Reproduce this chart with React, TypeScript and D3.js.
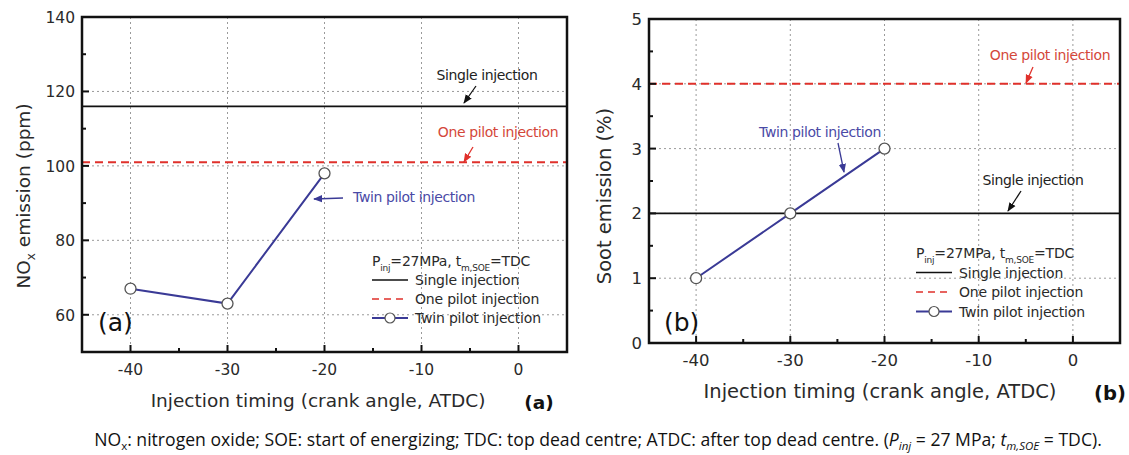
import React from "react";
import * as d3 from "d3";

// Injection timings (crank angle, ATDC) where the twin pilot strategy was measured
const timings = [-40, -30, -20];

// NOx emission (ppm)
const noxTwinPilot = [67, 63, 98];
const noxSingle = 116;
const noxOnePilot = 101;

// Soot emission (%)
const sootTwinPilot = [1, 2, 3];
const sootSingle = 2;
const sootOnePilot = 4;

// Axis ticks
const xTicks = [-40, -30, -20, -10, 0];
const xMinorTicks = [-35, -25, -15, -5];
const noxTicks = [60, 80, 100, 120, 140];
const noxMinorTicks = [70, 90, 110, 130];
const noxGrid = [60, 80, 100, 120];
const sootTicks = [0, 1, 2, 3, 4, 5];
const sootMinorTicks = [0.5, 1.5, 2.5, 3.5, 4.5];
const sootGrid = [1, 2, 3, 4];

const legendLabels = ["Single injection", "One pilot injection", "Twin pilot injection"];

const FONT = "'DejaVu Sans', Verdana, sans-serif";
const TEXT = "#2a2a2a";
const RED = "#e0312b";
const RED_TEXT = "#d4473a";
const BLUE = "#3a3a96";
const BLUE_TEXT = "#4a4aa6";

type Note = { text: string; color: string; tx: number; ty: number; ax1: number; ay1: number; ax2: number; ay2: number };

type PanelProps = {
  id: string;
  left: number;
  right: number;
  top: number;
  bottom: number;
  yDomain: [number, number];
  yTicks: number[];
  yMinor: number[];
  yGrid: number[];
  single: number;
  onePilot: number;
  twin: number[];
  yLabel: React.ReactNode;
  yLabelX: number;
  yLabelY: number;
  tag: string;
  tagX: number;
  tagY: number;
  panelLetter: string;
  letterX: number;
  titleX: number;
  titleSize: number;
  tickSize: number;
  legendX: number;
  legendY: number;
  legendGap: number;
  notes: Note[];
};

function arrowColor(c: string) {
  return c === BLUE_TEXT ? BLUE : c === RED_TEXT ? RED : "#111";
}

function Panel(p: PanelProps) {
  const x = d3.scaleLinear().domain([-45, 5]).range([p.left, p.right]);
  const y = d3.scaleLinear().domain(p.yDomain).range([p.bottom, p.top]);
  const line = d3
    .line<number>()
    .x((_, i) => x(timings[i]))
    .y((d) => y(d));

  const gridStyle = { stroke: "#9a9a9a", strokeWidth: 1, strokeDasharray: "2,3" };

  return (
    <g>
      <defs>
        {p.notes.map((n, i) => (
          <marker
            key={"mk" + i}
            id={`${p.id}-arrow-${i}`}
            viewBox="0 0 10 10"
            refX={9}
            refY={5}
            markerWidth={7}
            markerHeight={7}
            orient="auto"
          >
            <path d="M0,1 L10,5 L0,9 Z" fill={arrowColor(n.color)} />
          </marker>
        ))}
      </defs>

      {/* grid */}
      {xTicks.map((t) => (
        <line key={"gx" + t} x1={x(t)} x2={x(t)} y1={p.top} y2={p.bottom} {...gridStyle} />
      ))}
      {p.yGrid.map((t) => (
        <line key={"gy" + t} x1={p.left} x2={p.right} y1={y(t)} y2={y(t)} {...gridStyle} />
      ))}

      {/* reference strategies */}
      <line x1={p.left} x2={p.right} y1={y(p.single)} y2={y(p.single)} stroke="#111" strokeWidth={1.8} />
      <line
        x1={p.left}
        x2={p.right}
        y1={y(p.onePilot)}
        y2={y(p.onePilot)}
        stroke={RED}
        strokeWidth={2}
        strokeDasharray="8,5"
      />

      {/* twin pilot series */}
      <path d={line(p.twin) || ""} fill="none" stroke={BLUE} strokeWidth={2} />
      {p.twin.map((v, i) => (
        <circle key={"m" + i} cx={x(timings[i])} cy={y(v)} r={5.5} fill="#fff" stroke="#555" strokeWidth={1.3} />
      ))}

      {/* annotations */}
      {p.notes.map((n, i) => (
        <g key={"n" + i}>
          <text x={n.tx} y={n.ty} fill={n.color} fontSize={14} fontFamily={FONT} textAnchor="middle" letterSpacing={-0.4}>
            {n.text}
          </text>
          <line
            x1={n.ax1}
            y1={n.ay1}
            x2={n.ax2}
            y2={n.ay2}
            stroke={arrowColor(n.color)}
            strokeWidth={1.3}
            markerEnd={`url(#${p.id}-arrow-${i})`}
          />
        </g>
      ))}

      {/* legend */}
      <g fontFamily={FONT} fontSize={14} fill={TEXT} letterSpacing={-0.2}>
        <text x={p.legendX} y={p.legendY}>
          P<tspan fontSize={9} dy={5}>inj</tspan>
          <tspan dy={-5}>=27MPa, t</tspan>
          <tspan fontSize={9} dy={5}>m,SOE</tspan>
          <tspan dy={-5}>=TDC</tspan>
        </text>
        {legendLabels.map((lab, i) => {
          const ly = p.legendY + p.legendGap * (i + 1);
          const x1 = p.legendX;
          const x2 = p.legendX + 36;
          return (
            <g key={lab}>
              {i === 0 && <line x1={x1} x2={x2} y1={ly - 5} y2={ly - 5} stroke="#111" strokeWidth={1.6} />}
              {i === 1 && <line x1={x1} x2={x2} y1={ly - 5} y2={ly - 5} stroke={RED} strokeWidth={1.6} strokeDasharray="7,5" />}
              {i === 2 && (
                <g>
                  <line x1={x1} x2={x2} y1={ly - 5} y2={ly - 5} stroke={BLUE} strokeWidth={1.8} />
                  <circle cx={(x1 + x2) / 2} cy={ly - 5} r={5} fill="#fff" stroke="#555" strokeWidth={1.2} />
                </g>
              )}
              <text x={p.legendX + 43} y={ly}>
                {lab}
              </text>
            </g>
          );
        })}
      </g>

      {/* panel tag inside plot */}
      <text x={p.tagX} y={p.tagY} fontFamily={FONT} fontSize={25} fill="#111">
        {p.tag}
      </text>

      {/* ticks */}
      {xTicks.map((t) => (
        <g key={"xt" + t}>
          <line x1={x(t)} x2={x(t)} y1={p.bottom} y2={p.bottom - 7} stroke="#111" strokeWidth={2} />
          <text x={x(t)} y={p.bottom + 23} textAnchor="middle" fontFamily={FONT} fontSize={p.tickSize} fill={TEXT}>
            {t}
          </text>
        </g>
      ))}
      {xMinorTicks.map((t) => (
        <line key={"xm" + t} x1={x(t)} x2={x(t)} y1={p.bottom} y2={p.bottom - 4} stroke="#111" strokeWidth={2} />
      ))}
      {p.yTicks.map((t) => (
        <g key={"yt" + t}>
          <line x1={p.left} x2={p.left + 7} y1={y(t)} y2={y(t)} stroke="#111" strokeWidth={2} />
          <text x={p.left - 7} y={y(t) + 6} textAnchor="end" fontFamily={FONT} fontSize={p.tickSize} fill={TEXT}>
            {t}
          </text>
        </g>
      ))}
      {p.yMinor.map((t) => (
        <line key={"ym" + t} x1={p.left} x2={p.left + 4} y1={y(t)} y2={y(t)} stroke="#111" strokeWidth={2} />
      ))}

      {/* frame */}
      <rect x={p.left} y={p.top} width={p.right - p.left} height={p.bottom - p.top} fill="none" stroke="#111" strokeWidth={2.5} />

      {/* axis titles */}
      <text
        transform={`translate(${p.yLabelX},${p.yLabelY}) rotate(-90)`}
        textAnchor="middle"
        fontFamily={FONT}
        fontSize={p.titleSize}
        fill={TEXT}
      >
        {p.yLabel}
      </text>
      <text x={p.titleX} y={p.bottom + 55} textAnchor="middle" fontFamily={FONT} fontSize={p.titleSize} fill={TEXT}>
        Injection timing (crank angle, ATDC)
      </text>
      <text x={p.letterX} y={p.bottom + 57} textAnchor="middle" fontFamily={FONT} fontSize={p.titleSize} fontWeight="bold" fill="#111">
        {p.panelLetter}
      </text>
    </g>
  );
}

export default function App() {
  return (
    <svg
      width={1129}
      height={455}
      viewBox="0 0 1129 455"
      style={{ position: "absolute", left: 0, top: 0, background: "#fff" }}
    >
      <rect width={1129} height={455} fill="#fff" />
      <Panel
        id="nox"
        left={82}
        right={567}
        top={17}
        bottom={352}
        yDomain={[50, 140]}
        yTicks={noxTicks}
        yMinor={noxMinorTicks}
        yGrid={noxGrid}
        single={noxSingle}
        onePilot={noxOnePilot}
        twin={noxTwinPilot}
        yLabel={
          <>
            NO<tspan fontSize={12} dy={5}>x</tspan>
            <tspan dy={-5}> emission (ppm)</tspan>
          </>
        }
        yLabelX={30}
        yLabelY={196}
        tag="(a)"
        tagX={98}
        tagY={331}
        panelLetter="(a)"
        letterX={539}
        titleX={318}
        titleSize={18.5}
        tickSize={15.5}
        legendX={372}
        legendY={266}
        legendGap={19}
        notes={[
          { text: "Single injection", color: "#222", tx: 487, ty: 80, ax1: 476, ay1: 86, ax2: 464, ay2: 103 },
          { text: "One pilot injection", color: RED_TEXT, tx: 498, ty: 137, ax1: 473, ay1: 147, ax2: 464, ay2: 162 },
          { text: "Twin pilot injection", color: BLUE_TEXT, tx: 414, ty: 202, ax1: 343, ay1: 198, ax2: 314, ay2: 199 },
        ]}
      />
      <Panel
        id="soot"
        left={649}
        right={1120}
        top={19}
        bottom={343}
        yDomain={[0, 5]}
        yTicks={sootTicks}
        yMinor={sootMinorTicks}
        yGrid={sootGrid}
        single={sootSingle}
        onePilot={sootOnePilot}
        twin={sootTwinPilot}
        yLabel="Soot emission (%)"
        yLabelX={611}
        yLabelY={196}
        tag="(b)"
        tagX={664}
        tagY={331}
        panelLetter="(b)"
        letterX={1110}
        titleX={880}
        titleSize={19.5}
        tickSize={16.5}
        legendX={916}
        legendY={258}
        legendGap={19.5}
        notes={[
          { text: "One pilot injection", color: RED_TEXT, tx: 1050, ty: 60, ax1: 1033, ay1: 67, ax2: 1026, ay2: 83 },
          { text: "Twin pilot injection", color: BLUE_TEXT, tx: 820, ty: 137, ax1: 838, ay1: 143, ax2: 844, ay2: 172 },
          { text: "Single injection", color: "#222", tx: 1033, ty: 185, ax1: 1021, ay1: 191, ax2: 1008, ay2: 211 },
        ]}
      />
      {/* caption */}
      <text x={598} y={446} textAnchor="middle" fontFamily="'Open Sans', Lato, sans-serif" fontSize={17.6} fill="#111">
        NO<tspan fontSize={11.5} dy={4}>x</tspan>
        <tspan dy={-4}>: nitrogen oxide; SOE: start of energizing; TDC: top dead centre; ATDC: after top dead centre. (</tspan>
        <tspan fontStyle="italic">P</tspan>
        <tspan fontStyle="italic" fontSize={11.5} dy={4}>inj</tspan>
        <tspan dy={-4}> = 27 MPa; </tspan>
        <tspan fontStyle="italic">t</tspan>
        <tspan fontStyle="italic" fontSize={11.5} dy={4}>m,SOE</tspan>
        <tspan dy={-4}> = TDC).</tspan>
      </text>
    </svg>
  );
}
